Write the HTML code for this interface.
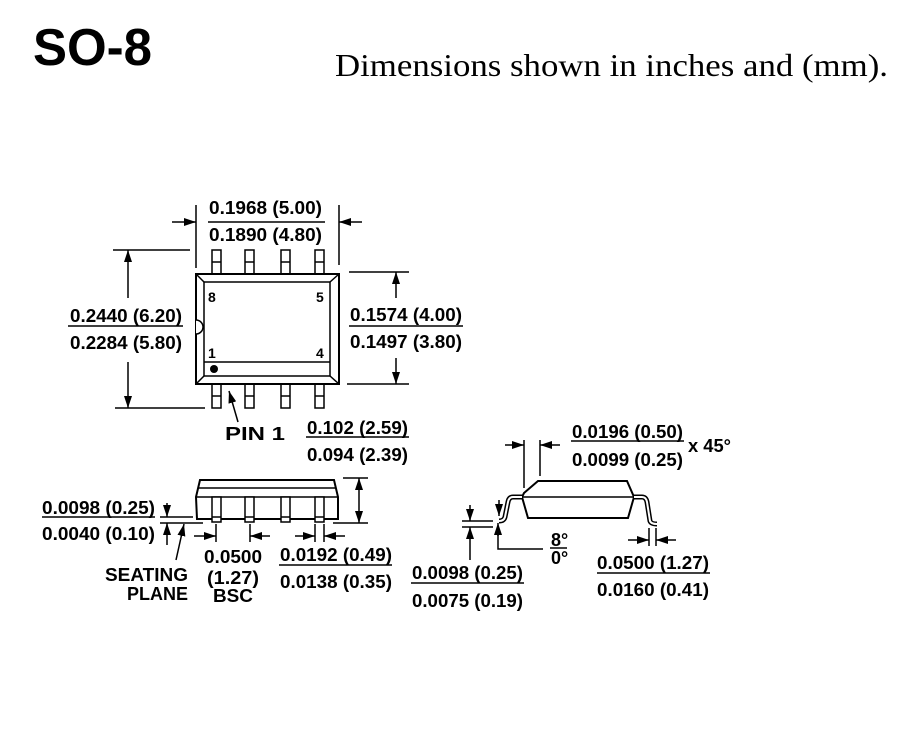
<!DOCTYPE html>
<html><head><meta charset="utf-8"><style>html,body{margin:0;padding:0;background:#fff}svg{display:block}</style></head>
<body>
<svg width="900" height="754" viewBox="0 0 900 754" xmlns="http://www.w3.org/2000/svg">
<defs>
<marker id="a" markerWidth="12" markerHeight="8" refX="12" refY="4" orient="auto" markerUnits="userSpaceOnUse"><path d="M0,0 L12,4 L0,8 Z" fill="#000"/></marker>
</defs>
<text x="33" y="65" font-family="Liberation Sans, sans-serif" font-weight="bold" font-size="52" textLength="119" lengthAdjust="spacingAndGlyphs">SO-8</text>
<text x="335" y="76" font-family="Liberation Serif, serif" font-size="32" textLength="553" lengthAdjust="spacingAndGlyphs">Dimensions shown in inches and (mm).</text>

<g stroke="#000" stroke-width="1.5" fill="none">
<rect x="196" y="274" width="143" height="110" stroke-width="2"/>
<rect x="204" y="282" width="126" height="94"/>
<line x1="196" y1="274" x2="204" y2="282"/><line x1="339" y1="274" x2="330" y2="282"/>
<line x1="196" y1="384" x2="204" y2="376"/><line x1="339" y1="384" x2="330" y2="376"/>
<line x1="204" y1="362" x2="330" y2="362"/>
<path d="M196,320 A7,7 0 0 1 196,334" fill="#fff"/>
<rect x="212" y="250" width="9" height="24"/><line x1="212" y1="262" x2="221" y2="262"/>
<rect x="245" y="250" width="9" height="24"/><line x1="245" y1="262" x2="254" y2="262"/>
<rect x="281" y="250" width="9" height="24"/><line x1="281" y1="262" x2="290" y2="262"/>
<rect x="315" y="250" width="9" height="24"/><line x1="315" y1="262" x2="324" y2="262"/>
<rect x="212" y="384" width="9" height="24"/><line x1="212" y1="396" x2="221" y2="396"/>
<rect x="245" y="384" width="9" height="24"/><line x1="245" y1="396" x2="254" y2="396"/>
<rect x="281" y="384" width="9" height="24"/><line x1="281" y1="396" x2="290" y2="396"/>
<rect x="315" y="384" width="9" height="24"/><line x1="315" y1="396" x2="324" y2="396"/>
<line x1="196" y1="205" x2="196" y2="268"/><line x1="339" y1="205" x2="339" y2="265"/>
<line x1="172" y1="222" x2="196" y2="222" marker-end="url(#a)"/>
<line x1="362" y1="222" x2="339" y2="222" marker-end="url(#a)"/>
<line x1="208" y1="222" x2="325" y2="222"/>
<line x1="113" y1="250" x2="190" y2="250"/><line x1="115" y1="408" x2="205" y2="408"/>
<line x1="128" y1="298" x2="128" y2="250" marker-end="url(#a)"/>
<line x1="128" y1="362" x2="128" y2="408" marker-end="url(#a)"/>
<line x1="68" y1="326" x2="183" y2="326"/>
<line x1="349" y1="272" x2="409" y2="272"/><line x1="347" y1="384" x2="409" y2="384"/>
<line x1="396" y1="298" x2="396" y2="272" marker-end="url(#a)"/>
<line x1="396" y1="358" x2="396" y2="384" marker-end="url(#a)"/>
<line x1="349" y1="326" x2="463" y2="326"/>
<line x1="238" y1="422" x2="229" y2="391" marker-end="url(#a)"/>
<line x1="306" y1="437" x2="409" y2="437"/>

<path d="M200,480 L334,480 L338,497 L338,519 L197,519 L196,497 Z" stroke-width="2"/>
<line x1="199" y1="488" x2="336" y2="488"/>
<line x1="196" y1="497" x2="338" y2="497"/>
<rect x="212" y="497" width="9" height="25" fill="#fff"/><line x1="212" y1="517" x2="221" y2="517"/>
<rect x="245" y="497" width="9" height="25" fill="#fff"/><line x1="245" y1="517" x2="254" y2="517"/>
<rect x="281" y="497" width="9" height="25" fill="#fff"/><line x1="281" y1="517" x2="290" y2="517"/>
<rect x="315" y="497" width="9" height="25" fill="#fff"/><line x1="315" y1="517" x2="324" y2="517"/>
<line x1="343" y1="478" x2="368" y2="478"/><line x1="333" y1="523" x2="368" y2="523"/>
<line x1="359" y1="500" x2="359" y2="478" marker-end="url(#a)"/>
<line x1="359" y1="500" x2="359" y2="523" marker-end="url(#a)"/>
<line x1="160" y1="517" x2="193" y2="517"/><line x1="160" y1="523" x2="203" y2="523"/>
<line x1="167" y1="503" x2="167" y2="517" marker-end="url(#a)"/>
<line x1="167" y1="545" x2="167" y2="523" marker-end="url(#a)"/>
<line x1="176" y1="560" x2="184" y2="524" marker-end="url(#a)"/>
<line x1="42" y1="517" x2="155" y2="517"/>
<line x1="216" y1="524" x2="216" y2="542"/><line x1="250" y1="524" x2="250" y2="542"/>
<line x1="194" y1="536" x2="216" y2="536" marker-end="url(#a)"/>
<line x1="270" y1="536" x2="250" y2="536" marker-end="url(#a)"/>
<line x1="315" y1="524" x2="315" y2="542"/><line x1="324" y1="524" x2="324" y2="542"/>
<line x1="295" y1="536" x2="315" y2="536" marker-end="url(#a)"/>
<line x1="345" y1="536" x2="324" y2="536" marker-end="url(#a)"/>
<line x1="279" y1="565" x2="392" y2="565"/>

<path d="M538,481 L627,481 L634,497 L628,518 L528,518 L522,497 L524,493 Z" stroke-width="2"/>
<line x1="522" y1="497" x2="634" y2="497"/>
<path d="M522,497 L513,497 Q509,497 508,502 L505,517 Q504,521 499,521" stroke-width="5"/>
<path d="M522,497 L513,497 Q509,497 508,502 L505,517 Q504,521 499,521" stroke="#fff" stroke-width="2"/>
<path d="M634,497 L642,497 Q646,497 647,502 L650,521 Q651,524 657,524" stroke-width="5"/>
<path d="M634,497 L642,497 Q646,497 647,502 L650,521 Q651,524 657,524" stroke="#fff" stroke-width="2"/>
<line x1="524" y1="440" x2="524" y2="488"/><line x1="540" y1="440" x2="540" y2="476"/>
<line x1="505" y1="445" x2="524" y2="445" marker-end="url(#a)"/>
<line x1="560" y1="445" x2="540" y2="445" marker-end="url(#a)"/>
<line x1="571" y1="441" x2="684" y2="441"/>
<line x1="462" y1="521" x2="493" y2="521"/><line x1="462" y1="527" x2="493" y2="527"/>
<line x1="470" y1="505" x2="470" y2="521" marker-end="url(#a)"/>
<line x1="470" y1="560" x2="470" y2="527" marker-end="url(#a)"/>
<line x1="499" y1="500" x2="499" y2="516" marker-end="url(#a)"/>
<line x1="498" y1="536" x2="498" y2="523" marker-end="url(#a)"/>
<polyline points="498,530 498,549 543,549"/>
<line x1="550" y1="548" x2="567" y2="548"/>
<line x1="649" y1="528" x2="649" y2="546"/><line x1="656" y1="528" x2="656" y2="546"/>
<line x1="628" y1="540" x2="649" y2="540" marker-end="url(#a)"/>
<line x1="676" y1="540" x2="656" y2="540" marker-end="url(#a)"/>
<line x1="597" y1="573" x2="710" y2="573"/>
<line x1="411" y1="583" x2="524" y2="583"/>
</g>
<circle cx="214" cy="369" r="4" fill="#000"/>

<g font-family="Liberation Sans, sans-serif" font-weight="bold" font-size="18" fill="#000">
<text x="209" y="214" textLength="113" lengthAdjust="spacingAndGlyphs">0.1968 (5.00)</text>
<text x="209" y="241" textLength="113" lengthAdjust="spacingAndGlyphs">0.1890 (4.80)</text>
<text x="70" y="322" textLength="112" lengthAdjust="spacingAndGlyphs">0.2440 (6.20)</text>
<text x="70" y="349" textLength="112" lengthAdjust="spacingAndGlyphs">0.2284 (5.80)</text>
<text x="350" y="321" textLength="112" lengthAdjust="spacingAndGlyphs">0.1574 (4.00)</text>
<text x="350" y="348" textLength="112" lengthAdjust="spacingAndGlyphs">0.1497 (3.80)</text>
<text x="208" y="302" font-size="14">8</text>
<text x="316" y="302" font-size="14">5</text>
<text x="208" y="358" font-size="14">1</text>
<text x="316" y="358" font-size="14">4</text>
<text x="225" y="440" textLength="60" lengthAdjust="spacingAndGlyphs">PIN 1</text>
<text x="307" y="434" textLength="101" lengthAdjust="spacingAndGlyphs">0.102 (2.59)</text>
<text x="307" y="461" textLength="101" lengthAdjust="spacingAndGlyphs">0.094 (2.39)</text>
<text x="42" y="514" textLength="113" lengthAdjust="spacingAndGlyphs">0.0098 (0.25)</text>
<text x="42" y="540" textLength="113" lengthAdjust="spacingAndGlyphs">0.0040 (0.10)</text>
<text x="204" y="563" textLength="58" lengthAdjust="spacingAndGlyphs">0.0500</text>
<text x="207" y="584" textLength="52" lengthAdjust="spacingAndGlyphs">(1.27)</text>
<text x="213" y="602" textLength="40" lengthAdjust="spacingAndGlyphs">BSC</text>
<text x="105" y="581" textLength="83" lengthAdjust="spacingAndGlyphs">SEATING</text>
<text x="127" y="600" textLength="61" lengthAdjust="spacingAndGlyphs">PLANE</text>
<text x="280" y="561" textLength="112" lengthAdjust="spacingAndGlyphs">0.0192 (0.49)</text>
<text x="280" y="588" textLength="112" lengthAdjust="spacingAndGlyphs">0.0138 (0.35)</text>
<text x="572" y="438" textLength="111" lengthAdjust="spacingAndGlyphs">0.0196 (0.50)</text>
<text x="572" y="466" textLength="111" lengthAdjust="spacingAndGlyphs">0.0099 (0.25)</text>
<text x="688" y="452" textLength="43" lengthAdjust="spacingAndGlyphs">x 45°</text>
<text x="551" y="546">8°</text>
<text x="551" y="564">0°</text>
<text x="597" y="569" textLength="112" lengthAdjust="spacingAndGlyphs">0.0500 (1.27)</text>
<text x="597" y="596" textLength="112" lengthAdjust="spacingAndGlyphs">0.0160 (0.41)</text>
<text x="412" y="579" textLength="111" lengthAdjust="spacingAndGlyphs">0.0098 (0.25)</text>
<text x="412" y="607" textLength="111" lengthAdjust="spacingAndGlyphs">0.0075 (0.19)</text>
</g>
</svg>
</body></html>
